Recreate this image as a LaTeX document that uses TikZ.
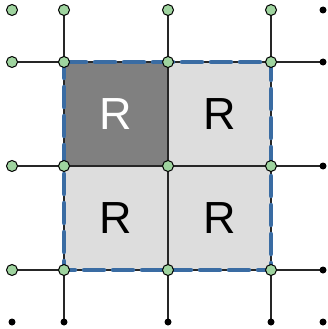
\documentclass[tikz,border=0pt]{standalone}
\usepackage{fontspec}
\setmainfont{Liberation Sans}
\usetikzlibrary{calc}
\definecolor{darksq}{HTML}{808080}
\definecolor{lightsq}{HTML}{DDDDDD}
\definecolor{dashblue}{HTML}{3A6CA3}
\definecolor{nodegreen}{HTML}{9FD49F}
\tikzset{
  gnode/.style={circle,draw=black,fill=nodegreen,line width=1pt,inner sep=0pt,minimum size=11pt},
  bnode/.style={circle,fill=black,inner sep=0pt,minimum size=7pt},
  gridline/.style={line width=1.5pt,draw=black!85},
  border/.style={line width=4.5pt,draw=dashblue,line cap=round,dash pattern=on 20pt off 9pt,dash phase=-2pt},
  rlabel/.style={font=\fontsize{45}{45}\selectfont,inner sep=0pt}
}
\begin{document}
\begin{tikzpicture}[x=1pt,y=-1pt]
\useasboundingbox (0,0) rectangle (328,329);
% grid coordinates
\foreach \c/\x in {0/12,1/64,2/168,3/271,4/323}{
  \foreach \r/\y in {0/10,1/62,2/166,3/270,4/322}{
    \coordinate (p\c\r) at (\x,\y);
  }
}
% squares
\fill[darksq] (p11) rectangle (p22);
\fill[lightsq] (p21) rectangle (p32);
\fill[lightsq] (p12) rectangle (p23);
\fill[lightsq] (p22) rectangle (p33);
\node[rlabel,text=white] (r1) at ($(p11)!0.5!(p22)$) {R};
\node[rlabel,text=black] (r2) at ($(p21)!0.5!(p32)$) {R};
\node[rlabel,text=black] (r3) at ($(p12)!0.5!(p23)$) {R};
\node[rlabel,text=black] (r4) at ($(p22)!0.5!(p33)$) {R};
% grid lines
\foreach \c in {1,2,3}{ \draw[gridline] (p\c0) -- (p\c4); }
\foreach \r in {1,2,3}{ \draw[gridline] (p0\r) -- (p4\r); }
% dashed border
\draw[border] (p11) -- (p31) -- (p33) -- (p13) -- cycle;
% nodes
\foreach \c in {0,1,2,3}{
  \foreach \r in {0,1,2,3}{
    \node[gnode] (n\c\r) at (p\c\r) {};
  }
}
\foreach \c in {0,1,2,3,4}{ \node[bnode] (n\c4) at (p\c4) {}; }
\foreach \r in {0,1,2,3}{ \node[bnode] (n4\r) at (p4\r) {}; }
\end{tikzpicture}
\end{document}
